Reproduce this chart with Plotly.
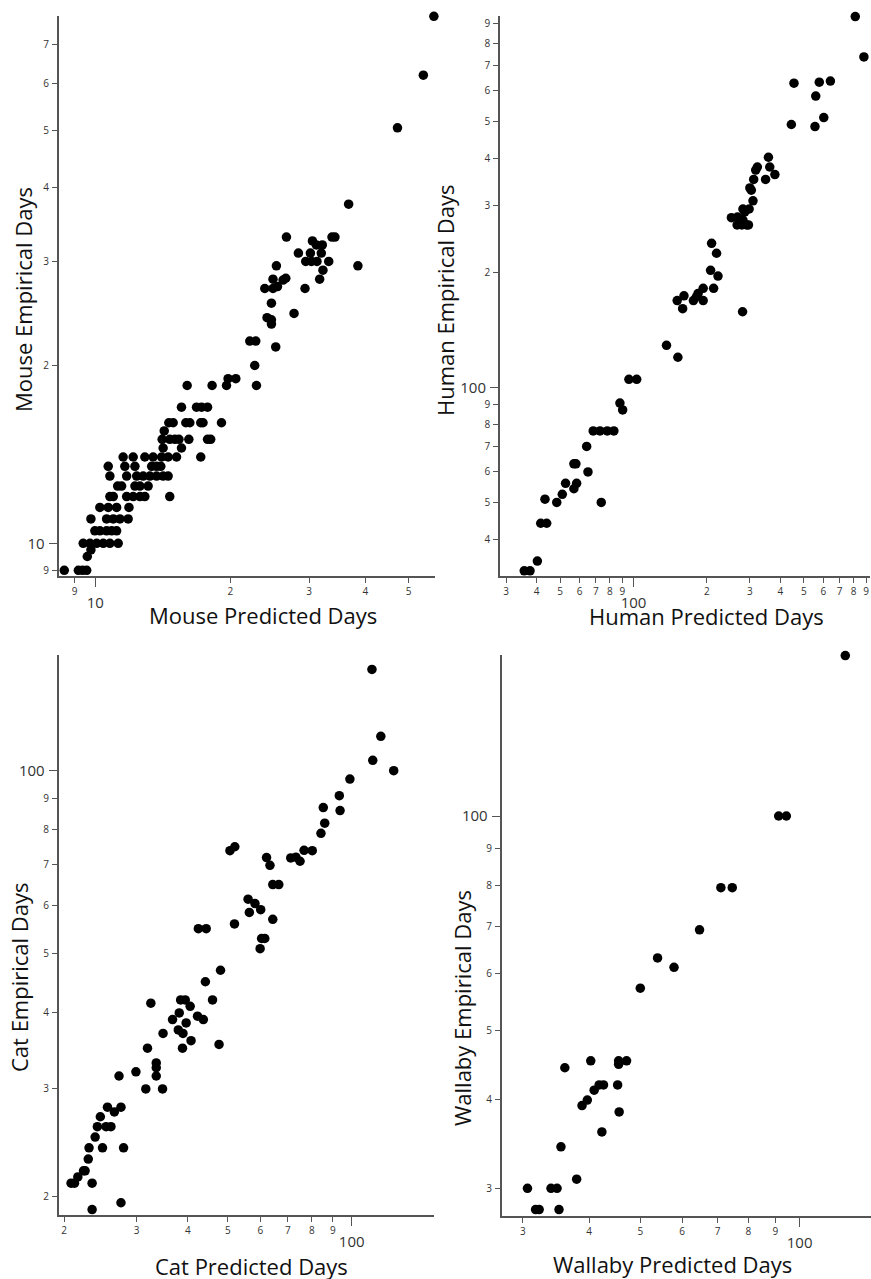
import plotly.graph_objects as go

# ---------------- data ----------------
mouse_pred = [8.53, 9.17, 9.37, 9.57, 9.60, 9.78,
              9.40, 9.73, 10.07, 10.42, 10.78, 11.25,
              9.98, 10.24, 10.60, 10.88, 11.16,
              9.78, 10.60, 10.97, 11.35, 11.84,
              10.24, 10.69, 11.16, 11.89,
              10.78, 10.97, 11.75, 12.15, 12.58, 12.90, 14.66,
              11.22, 11.45, 12.26, 12.58, 13.12,
              10.78, 11.75, 12.37, 12.79, 13.24, 13.70, 14.17, 14.54,
              10.69, 11.64, 12.26, 13.36, 13.70, 14.00,
              11.54, 12.15, 12.90, 13.46, 14.06, 14.54, 15.18, 17.19,
              14.17, 15.57,
              14.10, 14.66, 15.05, 15.37, 16.17, 17.80, 18.09,
              14.25,
              14.59, 14.92, 15.92, 16.25, 17.19, 17.39, 19.12,
              15.57, 16.82, 17.26, 17.80,
              16.03, 18.22, 19.62, 22.88,
              19.78, 20.58,
              22.68, 22.11, 22.80, 25.26,
              24.16, 24.71, 24.71, 27.75, 24.71,
              23.88, 24.91, 25.49, 26.23, 26.60, 24.91,
              25.35, 29.36, 28.38, 26.69,
              30.50, 31.12, 32.09, 30.18, 31.92,
              29.47, 30.34, 31.22, 33.16,
              32.19, 31.65, 38.52, 33.72, 34.24, 36.73,
              47.2, 53.9, 56.9]
mouse_emp = [9, 9, 9, 9, 9.5, 9.75,
             10, 10, 10, 10, 10, 10,
             10.5, 10.5, 10.5, 10.5, 10.5,
             11, 11, 11, 11, 11,
             11.5, 11.5, 11.5, 11.5,
             12, 12, 12, 12, 12, 12, 12,
             12.5, 12.5, 12.5, 12.5, 12.5,
             13, 13, 13, 13, 13, 13, 13, 13,
             13.5, 13.5, 13.5, 13.5, 13.5, 13.5,
             14, 14, 14, 14, 14, 14, 14, 14,
             14.5, 14.5,
             15, 15, 15, 15, 15, 15, 15,
             15.5,
             16, 16, 16, 16, 16, 16, 16,
             17, 17, 17, 17,
             18.5, 18.5, 18.5, 18.5,
             19, 19,
             20, 22, 22, 21.5,
             24.1, 23.9, 23.5, 24.5, 25.5,
             27, 27, 27.2, 27.9, 28.1, 28,
             29.5, 27, 31, 33,
             32.5, 32, 32, 31, 31,
             30, 30, 30, 30,
             29, 28, 29.5, 33, 33, 37.5,
             50.5, 62, 78]

human_pred = [812, 881, 455, 444, 578, 642, 559, 555, 603,
              357.5, 322, 317, 362, 380, 348, 311, 300, 304, 309, 298, 281, 286,
              252, 267, 273, 281, 266, 278, 291, 296,
              209, 219, 207, 222, 213, 193, 184, 181, 176, 193, 161, 151, 159, 280,
              136.5, 152, 95.7, 103, 87.9, 90.2, 68.3, 72.8, 78, 83, 64.2, 65,
              56.9, 58, 52.6, 58.4, 56.9, 51, 48.4, 73.7, 43.3, 41.6, 44, 40.3, 35.6, 37.6]
human_emp = [941, 737, 629, 490, 633, 637, 582, 484, 511,
             402, 379, 372, 379, 362, 351.5, 351.5, 334, 329.5, 309, 294, 294, 289,
             279, 280, 275, 275, 267, 267, 267, 267,
             239, 225, 203, 196, 182, 182, 176.5, 173, 169, 169, 174, 169, 161, 158,
             129, 120, 105, 105, 91, 87.3, 76.9, 76.9, 76.9, 76.9, 70, 60,
             63, 63, 56, 56, 54.2, 52.4, 49.9, 49.9, 50.9, 44, 44, 35, 33, 33]

cat_pred = [148.4, 112, 117.7, 112.5, 126.5, 99, 93.3, 93.7, 85.3, 86, 84.2, 80.2, 76.6, 74.9,
            73.2, 71.1, 50.6, 52, 62.1, 63.3, 64.3, 66.5, 56, 58.2, 56.4, 60.1, 64.3, 51.9,
            42.4, 44.3, 60.4, 61.5, 59.9,
            48, 44.1, 32.5, 38.4, 39.4, 45.9, 40.5, 38.1, 36.7, 42.2, 43.6, 39.6, 37.9, 38.9,
            34.8, 40.7, 47.6, 31.9, 38.8, 33.5, 33.5, 33.5, 29.9, 27.2, 31.6, 34.7, 25.5, 27.5,
            26.5, 24.5, 24.1, 25.3, 26, 23.8, 23, 24.8, 27.9, 22.9, 22.3, 22.5, 21.6, 20.8, 21.2,
            23.4, 27.5, 23.4]
cat_emp = [155, 146.7, 113.9, 104, 100, 96.9, 91, 86, 87, 82, 78.9, 73.9, 74, 71,
           72.1, 71.9, 73.9, 75, 72, 69.9, 65, 65, 61.5, 60.5, 58.5, 59.1, 57, 56,
           55, 55, 53, 53, 51,
           47, 45, 41.5, 42, 42, 42, 41, 40, 39, 39.5, 39, 38.5, 37.5, 37,
           37, 36, 35.5, 35, 35, 33.1, 32.5, 31.5, 32, 31.5, 30, 30, 28, 28,
           27.5, 27, 26, 26, 26, 25, 24, 24, 24, 23, 22, 22, 21.5, 21, 21,
           21, 19.5, 19.0]

wallaby_pred = [122, 91.3, 94.4, 71, 74.6, 64.7, 53.9, 57.9, 50, 36, 40.3, 45.5, 45.5, 47.1,
                40.9, 41.8, 42.6, 45.3, 39.7, 38.8, 45.6, 42.3, 35.4, 37.9, 30.6, 33.9, 34.8,
                31.7, 32.2, 35.1]
wallaby_emp = [168, 100, 100, 79.3, 79.3, 69.2, 63.2, 61.3, 57.3, 44.3, 45.3, 45.3, 44.8, 45.3,
               41.2, 41.9, 41.9, 41.9, 39.9, 39.2, 38.4, 36, 34.3, 30.9, 30, 30, 30,
               28, 28, 28]

# tick values / labels (JMP style: leading digit for minor, full value for decades)
mouse_x_minor = [9, 20, 30, 40, 50]
mouse_x_minor_txt = ["9", "2", "3", "4", "5"]
mouse_x_major = [10]
mouse_y_minor = [9, 20, 30, 40, 50, 60, 70]
mouse_y_minor_txt = ["9", "2", "3", "4", "5", "6", "7"]
mouse_y_major = [10]

human_x_minor = [30, 40, 50, 60, 70, 80, 90, 200, 300, 400, 500, 600, 700, 800, 900]
human_x_minor_txt = ["3", "4", "5", "6", "7", "8", "9", "2", "3", "4", "5", "6", "7", "8", "9"]
human_x_major = [100]
human_y_minor = [40, 50, 60, 70, 80, 90, 200, 300, 400, 500, 600, 700, 800, 900]
human_y_minor_txt = ["4", "5", "6", "7", "8", "9", "2", "3", "4", "5", "6", "7", "8", "9"]
human_y_major = [100]

cat_x_minor = [20, 30, 40, 50, 60, 70, 80, 90]
cat_x_minor_txt = ["2", "3", "4", "5", "6", "7", "8", "9"]
cat_x_major = [100]
cat_y_minor = [20, 30, 40, 50, 60, 70, 80, 90]
cat_y_minor_txt = ["2", "3", "4", "5", "6", "7", "8", "9"]
cat_y_major = [100]

wal_x_minor = [30, 40, 50, 60, 70, 80, 90]
wal_x_minor_txt = ["3", "4", "5", "6", "7", "8", "9"]
wal_x_major = [100]
wal_y_minor = [30, 40, 50, 60, 70, 80, 90]
wal_y_minor_txt = ["3", "4", "5", "6", "7", "8", "9"]
wal_y_major = [100]

W, H = 871, 1279
FONT = "Open Sans"
AX_COLOR = "#555555"
TXT_COLOR = "#333333"


def px_x(p):
    return p / W


def px_y(p):
    return 1 - p / H


panels = [
    dict(name="Mouse", px=mouse_pred, py=mouse_emp,
         xdom=[px_x(58.7), px_x(434.5)], ydom=[px_y(576), px_y(15.5)],
         xr=[0.9185, 1.7565], yr=[0.9447, 1.8935],
         xmin=mouse_x_minor, xmint=mouse_x_minor_txt, xmaj=mouse_x_major,
         ymin=mouse_y_minor, ymint=mouse_y_minor_txt, ymaj=mouse_y_major,
         xt=(263, 615), yt=(23, 300)),
    dict(name="Human", px=human_pred, py=human_emp,
         xdom=[px_x(500), px_x(870)], ydom=[px_y(576), px_y(16)],
         xr=[1.452, 2.97], yr=[1.505, 2.975],
         xmin=human_x_minor, xmint=human_x_minor_txt, xmaj=human_x_major,
         ymin=human_y_minor, ymint=human_y_minor_txt, ymaj=human_y_major,
         xt=(706, 616), yt=(445, 300)),
    dict(name="Cat", px=cat_pred, py=cat_emp,
         xdom=[px_x(58.7), px_x(434)], ydom=[px_y(1215.3), px_y(655.3)],
         xr=[1.288, 2.2], yr=[1.2694, 2.1897],
         xmin=cat_x_minor, xmint=cat_x_minor_txt, xmaj=cat_x_major,
         ymin=cat_y_minor, ymint=cat_y_minor_txt, ymaj=cat_y_major,
         xt=(251, 1266), yt=(19, 977)),
    dict(name="Wallaby", px=wallaby_pred, py=wallaby_emp,
         xdom=[px_x(501.7), px_x(870.5)], ydom=[px_y(1216), px_y(655.3)],
         xr=[1.437, 2.134], yr=[1.4382, 2.2257],
         xmin=wal_x_minor, xmint=wal_x_minor_txt, xmaj=wal_x_major,
         ymin=wal_y_minor, ymint=wal_y_minor_txt, ymaj=wal_y_major,
         xt=(672, 1264), yt=(462, 1008)),
]

fig = go.Figure()
layout = dict(width=W, height=H, margin=dict(l=0, r=0, t=0, b=0),
              paper_bgcolor="white", plot_bgcolor="white", showlegend=False,
              annotations=[])

for i, p in enumerate(panels):
    k = i + 1
    km = i + 5
    xa, ya = f"x{k}", f"y{k}"
    xam, yam = f"x{km}", f"y{km}"
    fig.add_trace(go.Scatter(x=p["px"], y=p["py"], mode="markers", xaxis=xa, yaxis=ya,
                             marker=dict(color="black", size=9.5, line=dict(width=0)),
                             cliponaxis=False, hoverinfo="x+y"))
    fig.add_trace(go.Scatter(x=[], y=[], mode="markers", xaxis=xam, yaxis=yam,
                             hoverinfo="skip"))
    common = dict(type="log", showgrid=False, zeroline=False, ticks="outside",
                  tickcolor=AX_COLOR, tickwidth=1.2, fixedrange=True)
    layout[f"xaxis{k}"] = dict(common, domain=p["xdom"], range=p["xr"], anchor=ya,
                               showline=True, linecolor=AX_COLOR, linewidth=1.6,
                               tickvals=p["xmin"], ticktext=p["xmint"], ticklen=5,
                               tickfont=dict(family=FONT, size=10, color=TXT_COLOR))
    layout[f"yaxis{k}"] = dict(common, domain=p["ydom"], range=p["yr"], anchor=xa,
                               showline=True, linecolor=AX_COLOR, linewidth=1.6,
                               tickvals=p["ymin"], ticktext=p["ymint"], ticklen=5,
                               ticklabelstandoff=1,
                               tickfont=dict(family=FONT, size=10, color=TXT_COLOR))
    layout[f"xaxis{km}"] = dict(common, domain=p["xdom"], range=p["xr"], anchor=yam,
                                overlaying=xa, showline=False,
                                tickvals=p["xmaj"], ticktext=[str(v) for v in p["xmaj"]],
                                ticklen=10, ticklabelstandoff=3,
                                tickfont=dict(family=FONT, size=15, color=TXT_COLOR))
    layout[f"yaxis{km}"] = dict(common, domain=p["ydom"], range=p["yr"], anchor=xam,
                                overlaying=ya, showline=False,
                                tickvals=p["ymaj"], ticktext=[str(v) for v in p["ymaj"]],
                                ticklen=9, ticklabelstandoff=1,
                                tickfont=dict(family=FONT, size=15, color=TXT_COLOR))
    layout["annotations"].append(dict(text=f"{p['name']} Predicted Days", xref="paper", yref="paper",
                                      x=p["xt"][0] / W, y=px_y(p["xt"][1]), showarrow=False,
                                      xanchor="center", yanchor="middle",
                                      font=dict(family=FONT, size=22, color="#111111")))
    layout["annotations"].append(dict(text=f"{p['name']} Empirical Days", xref="paper", yref="paper",
                                      x=p["yt"][0] / W, y=px_y(p["yt"][1]), showarrow=False,
                                      textangle=-90, xanchor="center", yanchor="middle",
                                      font=dict(family=FONT, size=22, color="#111111")))

fig.update_layout(**layout)
fig.write_html("out.html", config={"displayModeBar": False},
               post_script="document.body.style.margin='0';document.body.style.overflow='hidden';")
